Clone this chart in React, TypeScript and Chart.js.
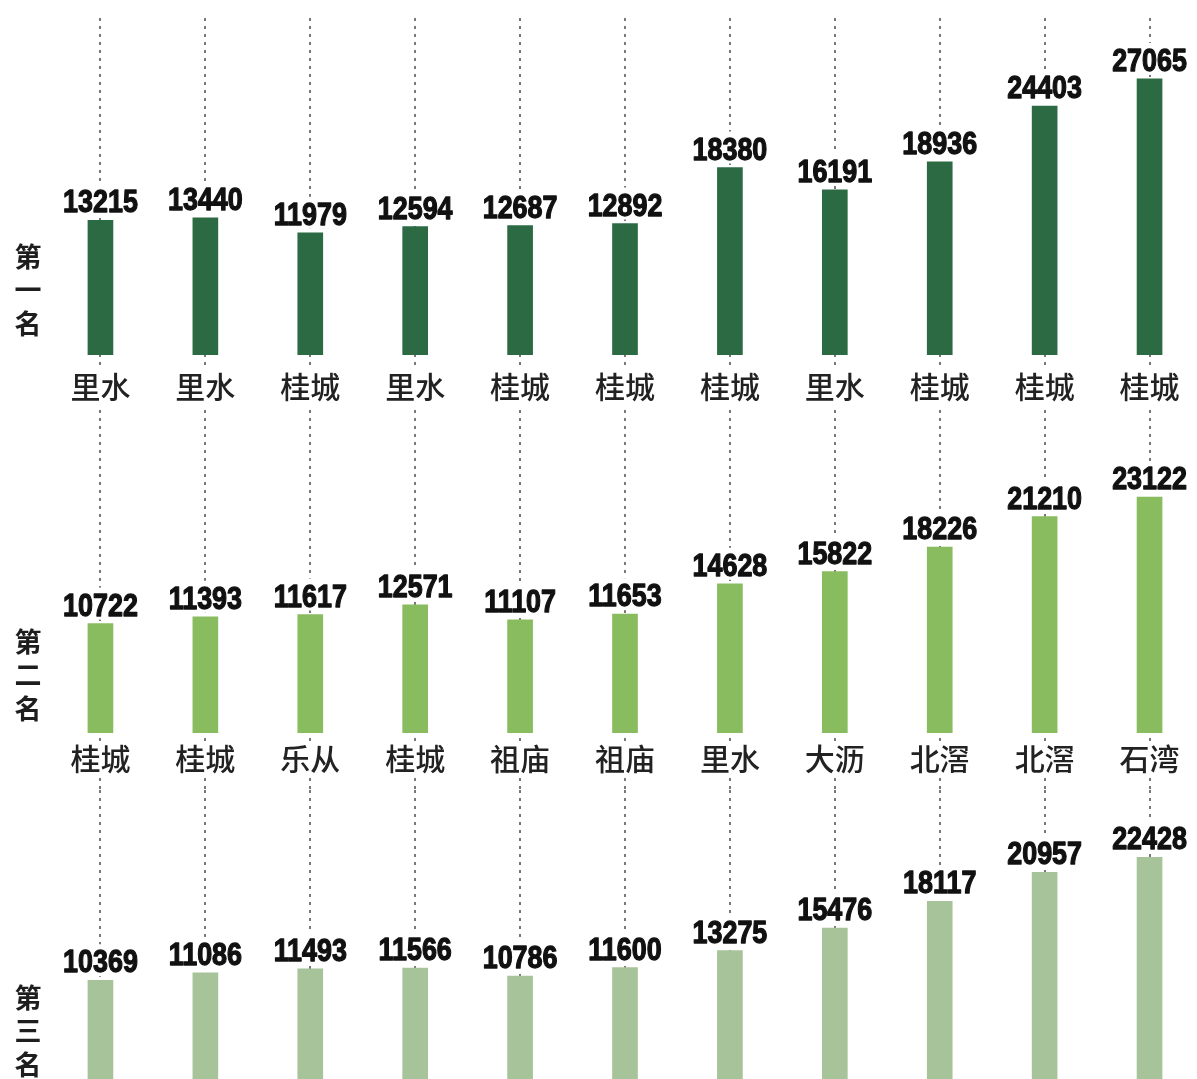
import React, { useEffect, useRef } from 'react';
import { Chart, registerables } from 'chart.js';

Chart.register(...registerables);

// ---------- data ----------
const COLUMNS = ['1', '2', '3', '4', '5', '6', '7', '8', '9', '10', '11'];

const ROW_TITLES = ['第一名', '第二名', '第三名'];

const FIRST_PLACES = ['里水', '里水', '桂城', '里水', '桂城', '桂城', '桂城', '里水', '桂城', '桂城', '桂城'];
const FIRST_VALUES = [13215, 13440, 11979, 12594, 12687, 12892, 18380, 16191, 18936, 24403, 27065];

const SECOND_PLACES = ['桂城', '桂城', '乐从', '桂城', '祖庙', '祖庙', '里水', '大沥', '北滘', '北滘', '石湾'];
const SECOND_VALUES = [10722, 11393, 11617, 12571, 11107, 11653, 14628, 15822, 18226, 21210, 23122];

const THIRD_PLACES: string[] = [];
const THIRD_VALUES = [10369, 11086, 11493, 11566, 10786, 11600, 13275, 15476, 18117, 20957, 22428];

// ---------- layout / style ----------
const PX_PER_UNIT = 0.0102;
const CANVAS_W = 1210;
const PAD_LEFT = 48;
const PAD_RIGHT = 8;

const ROW_STYLE = [
  { color: '#2b6a42', top: 0, height: 410, baseline: 355, labelOffset: 32, titleCenter: 289, lineStart: 18 },
  { color: '#88bc5f', top: 410, height: 380, baseline: 323, labelOffset: 26, titleCenter: 264, lineStart: 0 },
  { color: '#a6c39a', top: 790, height: 310, baseline: 296, labelOffset: 26, titleCenter: 240, lineStart: 0 },
];

const ROWS = [
  { title: ROW_TITLES[0], places: FIRST_PLACES, values: FIRST_VALUES },
  { title: ROW_TITLES[1], places: SECOND_PLACES, values: SECOND_VALUES },
  { title: ROW_TITLES[2], places: THIRD_PLACES, values: THIRD_VALUES },
];

const NUM_FONT = 'bold 32px "Liberation Sans", Arial, sans-serif';
const NUM_SCALE_X = 0.84;
const CJK_FONT = '500 30px "Noto Sans CJK SC", "Noto Sans", sans-serif';
const TITLE_FONT = '600 27px "Noto Sans CJK SC", "Noto Sans", sans-serif';

function RowChart({ idx }: { idx: number }) {
  const ref = useRef<HTMLCanvasElement | null>(null);
  const row = ROWS[idx];
  const st = ROW_STYLE[idx];

  useEffect(() => {
    if (!ref.current) return;
    const overlay = {
      id: 'overlay',
      beforeDatasetsDraw(chart: any) {
        const ctx = chart.ctx;
        const xs = chart.scales.x;
        ctx.save();
        ctx.strokeStyle = 'rgba(105,105,105,0.9)';
        ctx.lineWidth = 2;
        ctx.setLineDash([3, 5]);
        for (let i = 0; i < COLUMNS.length; i++) {
          const px = Math.round(xs.getPixelForValue(i));
          ctx.beginPath();
          ctx.moveTo(px, st.lineStart);
          ctx.lineTo(px, chart.height);
          ctx.stroke();
        }
        ctx.restore();
      },
      afterDatasetsDraw(chart: any) {
        const ctx = chart.ctx;
        const meta = chart.getDatasetMeta(0);
        const xs = chart.scales.x;
        const ys = chart.scales.y;
        const base = ys.getPixelForValue(0);
        ctx.save();
        // value labels
        ctx.font = NUM_FONT;
        meta.data.forEach((el: any, i: number) => {
          const text = String(row.values[i]);
          const w = ctx.measureText(text).width * NUM_SCALE_X;
          const by = el.y - 8;
          ctx.fillStyle = '#ffffff';
          ctx.fillRect(el.x - w / 2 - 3, by - 28, w + 6, 32);
          ctx.save();
          ctx.translate(el.x, by);
          ctx.scale(NUM_SCALE_X, 1);
          ctx.fillStyle = '#111111';
          ctx.strokeStyle = '#111111';
          ctx.lineWidth = 1.3;
          ctx.lineJoin = 'round';
          ctx.textAlign = 'center';
          ctx.textBaseline = 'alphabetic';
          ctx.fillText(text, 0, 0);
          ctx.strokeText(text, 0, 0);
          ctx.restore();
        });
        // category labels
        ctx.font = CJK_FONT;
        ctx.textAlign = 'center';
        ctx.textBaseline = 'middle';
        row.places.forEach((p: string, i: number) => {
          const px = xs.getPixelForValue(i);
          const cy = base + st.labelOffset;
          const w = ctx.measureText(p).width;
          ctx.fillStyle = '#ffffff';
          ctx.fillRect(px - w / 2 - 3, cy - 18, w + 6, 36);
          ctx.fillStyle = '#222222';
          ctx.fillText(p, px, cy);
        });
        // row title (vertical)
        ctx.font = TITLE_FONT;
        const chars = Array.from(row.title);
        chars.forEach((c, j) => {
          const cy = st.titleCenter + (j - 1) * 33.5;
          ctx.fillStyle = '#ffffff';
          ctx.fillRect(13, cy - 16, 30, 32);
          ctx.fillStyle = '#1e1e1e';
          ctx.fillText(c, 28, cy + 1);
        });
        ctx.restore();
      },
    };

    const chart = new Chart(ref.current, {
      type: 'bar',
      data: {
        labels: COLUMNS,
        datasets: [
          {
            data: row.values,
            backgroundColor: st.color,
            borderWidth: 0,
            barThickness: 25,
          },
        ],
      },
      options: {
        animation: false,
        responsive: false,
        devicePixelRatio: 1,
        events: [],
        layout: {
          padding: { left: PAD_LEFT, right: PAD_RIGHT, top: 0, bottom: st.height - st.baseline },
        },
        plugins: { legend: { display: false }, tooltip: { enabled: false } },
        scales: {
          x: { type: 'category', offset: true, display: false },
          y: { display: false, min: 0, max: st.baseline / PX_PER_UNIT },
        },
      },
      plugins: [overlay],
    } as any);
    return () => chart.destroy();
  }, [idx]);

  return (
    <div style={{ position: 'absolute', left: 0, top: st.top, width: CANVAS_W, height: st.height }}>
      <canvas ref={ref} width={CANVAS_W} height={st.height} style={{ display: 'block' }} />
    </div>
  );
}

export default function App() {
  return (
    <div
      style={{
        position: 'absolute',
        left: 0,
        top: 0,
        width: 1197,
        height: 1079,
        overflow: 'hidden',
        background: '#ffffff',
      }}
    >
      {ROWS.map((_, i) => (
        <RowChart key={i} idx={i} />
      ))}
    </div>
  );
}
